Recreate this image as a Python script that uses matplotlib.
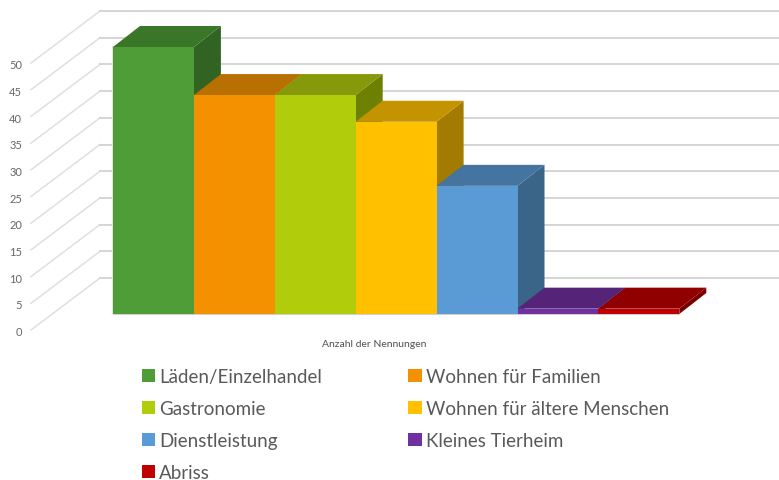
import matplotlib
matplotlib.use('Agg')
import matplotlib.pyplot as plt
from matplotlib.patches import Polygon, Patch

plt.rcParams['font.family'] = ['Lato', 'DejaVu Sans']

categories = ['Läden/Einzelhandel', 'Wohnen für Familien', 'Gastronomie',
              'Wohnen für ältere Menschen', 'Dienstleistung', 'Kleines Tierheim', 'Abriss']
values = [50, 41, 41, 36, 24, 1, 1]
front_colors = ['#4F9D36', '#F49100', '#B0CC0A', '#FFC000', '#5B9BD5', '#7030A0', '#C00000']
top_colors = ['#3A7628', '#B87000', '#85990A', '#C49400', '#44749F', '#552478', '#900000']
side_colors = ['#316422', '#9A5F00', '#6E8000', '#A37B00', '#3A6488', '#47205F', '#780000']
ticks = [0, 5, 10, 15, 20, 25, 30, 35, 40, 45, 50]
xlabel = 'Anzahl der Nennungen'

# pixel scale of the picture: one bar is 81 px wide, one unit is 5.34 px high
W, H = 779, 481
px_x = 80.9
px_y = 5.34
x0, y0 = 113, 315

# fake 3d offsets, in data units
bar_dx = 27 / px_x
bar_dy = 21 / px_y
wall_front_x = (31 - x0) / px_x
wall_front_y = (y0 - 331) / px_y
wall_back_x = (100 - x0) / px_x
wall_back_y = (y0 - 279) / px_y
wall_end_x = (W - x0) / px_x

fig = plt.figure(figsize=(W / 100, H / 100), dpi=100)
ax = fig.add_axes([0, 0, 1, 1])
ax.set_xlim(-x0 / px_x, (W - x0) / px_x)
ax.set_ylim((y0 - H) / px_y, y0 / px_y)
ax.axis('off')

# walls and gridlines
for t in ticks:
    ax.plot([wall_front_x, wall_back_x], [t + wall_front_y, t + wall_back_y],
            color='#dfdfdf', lw=1.1, zorder=1)
    ax.plot([wall_back_x, wall_end_x], [t + wall_back_y, t + wall_back_y],
            color='#d2d2d2', lw=1.3, zorder=1)
    ax.text(wall_front_x - 0.11, t + wall_front_y - 0.3, str(t), ha='right', va='center',
            fontsize=8, color='#666666')

# base line under the bars
ax.plot([0, len(values)], [0, 0], color='#d0d0d0', lw=1.5, zorder=2)
ax.plot([0, 0], [0, values[0]], color='#e4e4e4', lw=1.5, zorder=2)

# bars, left to right so the next top covers the side before it
for i, v in enumerate(values):
    z = 3 + i
    top = [(i, v), (i + 1, v), (i + 1 + bar_dx, v + bar_dy), (i + bar_dx, v + bar_dy)]
    side = [(i + 1, 0), (i + 1 + bar_dx, bar_dy), (i + 1 + bar_dx, v + bar_dy), (i + 1, v)]
    front = [(i, 0), (i + 1, 0), (i + 1, v), (i, v)]
    ax.add_patch(Polygon(side, closed=True, fc=side_colors[i], ec='none', zorder=z))
    ax.add_patch(Polygon(top, closed=True, fc=top_colors[i], ec='none', zorder=z))
    ax.add_patch(Polygon(front, closed=True, fc=front_colors[i], ec='none', zorder=z))

ax.text(len(values) / 2 - 0.27, (y0 - 345) / px_y, xlabel, ha='center', va='center',
        fontsize=7.5, color='#505050')

# legend is filled by column, the picture reads by row
order = [0, 2, 4, 6, 1, 3, 5]
handles = [Patch(fc=front_colors[i], ec='none', label=categories[i]) for i in order]
fig.legend(handles=handles, ncol=2, frameon=False, loc='upper left',
           bbox_to_anchor=(142 / W, 1 - 369 / H), borderaxespad=0, borderpad=0,
           handlelength=0.7, handleheight=0.7, handletextpad=0.22,
           labelspacing=0.8, columnspacing=4.6, fontsize=13.5, labelcolor='#595959')

plt.savefig('out.png', dpi=100)
